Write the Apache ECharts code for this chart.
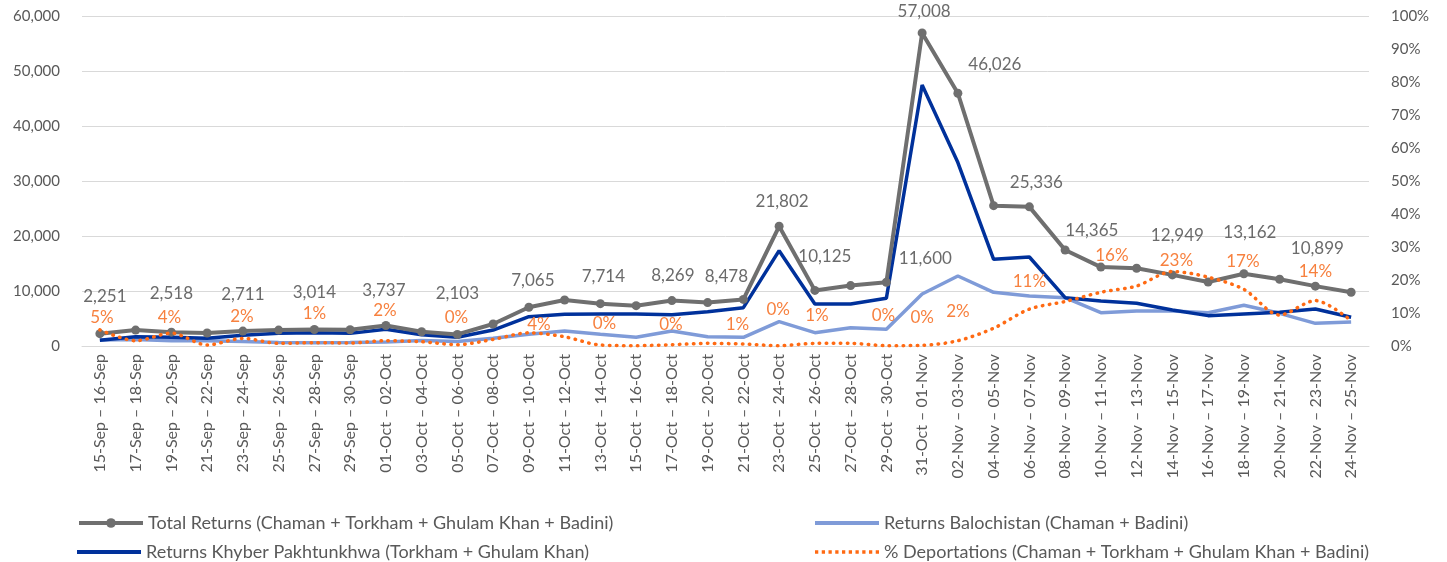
<!DOCTYPE html>
<html>
<head>
<meta charset="utf-8">
<script src="https://cdn.jsdelivr.net/npm/echarts@6/dist/echarts.min.js"></script>
<style>
html,body{margin:0;padding:0;background:#fff;}
#chart{width:1447px;height:562px;}
</style>
</head>
<body>
<div id="chart"></div>
<script>
// ---- DATA ----
const categories = ['15-Sep – 16-Sep','17-Sep – 18-Sep','19-Sep – 20-Sep','21-Sep – 22-Sep','23-Sep – 24-Sep','25-Sep – 26-Sep','27-Sep – 28-Sep','29-Sep – 30-Sep','01-Oct – 02-Oct','03-Oct – 04-Oct','05-Oct – 06-Oct','07-Oct – 08-Oct','09-Oct – 10-Oct','11-Oct – 12-Oct','13-Oct – 14-Oct','15-Oct – 16-Oct','17-Oct – 18-Oct','19-Oct – 20-Oct','21-Oct – 22-Oct','23-Oct – 24-Oct','25-Oct – 26-Oct','27-Oct – 28-Oct','29-Oct – 30-Oct','31-Oct – 01-Nov','02-Nov – 03-Nov','04-Nov – 05-Nov','06-Nov – 07-Nov','08-Nov – 09-Nov','10-Nov – 11-Nov','12-Nov – 13-Nov','14-Nov – 15-Nov','16-Nov – 17-Nov','18-Nov – 19-Nov','20-Nov – 21-Nov','22-Nov – 23-Nov','24-Nov – 25-Nov'];
const totalReturns = [2251,2900,2518,2370,2711,2900,3014,2950,3737,2600,2103,4000,7065,8380,7714,7340,8269,7900,8478,21802,10125,11000,11600,57008,46026,25560,25336,17490,14365,14150,12949,11660,13162,12150,10899,9780];
const returnsKP = [1040,1700,1600,1400,1950,2300,2430,2300,3040,2050,1580,2900,5340,5770,5830,5830,5700,6250,6980,17360,7650,7650,8690,47540,33400,15790,16210,8800,8200,7770,6560,5530,5830,6130,6740,5230];
const returnsBalochistan = [1100,1200,950,950,800,650,600,650,750,1000,800,1400,2130,2730,2130,1580,2730,1700,1580,4430,2430,3340,3040,9470,12750,9780,9110,8800,6070,6380,6380,6070,7410,5950,4130,4370];
const pctDeportations = [4.9,1.6,3.9,0.3,2.3,0.8,1.0,0.9,1.6,1.3,0.4,2.0,4.0,2.8,0.3,0.1,0.4,0.8,0.6,0.1,0.8,0.8,0.1,0.2,1.6,5.4,11.2,13.5,16.3,18.2,22.6,20.9,17.2,9.4,13.8,7.7];
const labeledIndices = [0,2,4,6,8,10,12,14,16,18,19,20,22,23,24,26,28,30,32,34];
const leftTicks = {min:0, max:60000, interval:10000};
const rightTicks = {min:0, max:100, interval:10};

const seriesNames = {
  total: 'Total Returns (Chaman + Torkham + Ghulam Khan + Badini)',
  bal: 'Returns Balochistan (Chaman + Badini)',
  kp: 'Returns Khyber Pakhtunkhwa (Torkham + Ghulam Khan)',
  pct: '% Deportations (Chaman + Torkham + Ghulam Khan + Badini)'
};

// ---- STYLE (label placements, not data) ----
const totalLabelOffsets = {0:[5,-37],2:[0,-39],4:[0,-37],6:[0,-37],8:[-2,-35],10:[0,-41],12:[4,-27],14:[3,-27],16:[1,-25],18:[-17,-23],19:[3,-25],20:[10,-34],22:[39,-24],23:[2,-21],24:[37,-29],26:[7,-24],28:[-9,-37],30:[5,-39],32:[6,-41],34:[2,-38]};
const pctLabelOffsets = {0:[2,-12],2:[-2,-16],4:[-1,-22],6:[0,-29],8:[-1,-30],10:[-1,-27],12:[10,-8],14:[4,-21],16:[-1,-20],18:[-6,-20],19:[-1,-36],20:[2,-28],22:[-3,-30],23:[0,-28],24:[0,-29],26:[0,-28],28:[11,-37],30:[4,-11],32:[-1,-28],34:[0,-29]};

const FONT = 'Lato';
const COLORS = {total:'#6f6f6f', kp:'#00319b', bal:'#7f9bd8', pct:'#ff6a13'};
const fmtThousands = v => Number(v).toLocaleString('en-US');

const totalData = totalReturns.map((v,i) => {
  if (labeledIndices.indexOf(i) < 0) return v;
  return {value:v, label:{show:true, offset: totalLabelOffsets[i] || [0,-30]}};
});
const pctData = pctDeportations.map((v,i) => {
  if (labeledIndices.indexOf(i) < 0) return v;
  return {value:v, label:{show:true, offset: pctLabelOffsets[i] || [0,-25]}};
});

// legend icons
let dots = '';
for (let x = 0; x < 64; x += 7) dots += 'M' + x + ' 0h3.4v3.4h-3.4z ';
const dottedIcon = 'path://' + dots;
const barIcon = 'path://M0 0h64v4H0z';

const legendText = {fontFamily: FONT, fontSize: 18, color: '#595959'};

const chart = echarts.init(document.getElementById('chart'), null, {renderer:'canvas'});
const option = {
  animation: false,
  backgroundColor: '#ffffff',
  textStyle: {fontFamily: FONT},
  grid: {left: 82, right: 78, top: 16.5, bottom: 216, containLabel: false},
  legend: [
    {left: 72, top: 509, itemWidth: 64, itemHeight: 12, selectedMode: false, textStyle: legendText,
      lineStyle: {width: 4}, data: [seriesNames.total]},
    {left: 72, top: 538, itemWidth: 64, itemHeight: 12, selectedMode: false, textStyle: legendText,
      data: [{name: seriesNames.kp, icon: barIcon, itemStyle: {color: COLORS.kp}}]},
    {left: 810, top: 509, itemWidth: 64, itemHeight: 12, selectedMode: false, textStyle: legendText,
      data: [{name: seriesNames.bal, icon: barIcon, itemStyle: {color: COLORS.bal}}]},
    {left: 810, top: 538, itemWidth: 64, itemHeight: 12, selectedMode: false, textStyle: legendText,
      data: [{name: seriesNames.pct, icon: dottedIcon, itemStyle: {color: COLORS.pct}}]}
  ],
  xAxis: {
    type: 'category', data: categories, boundaryGap: true,
    axisLine: {lineStyle: {color: '#d9d9d9', width: 1}},
    axisTick: {alignWithLabel: true, length: 5, lineStyle: {color: '#d9d9d9'}},
    axisLabel: {interval: 0, rotate: 90, margin: 8, fontFamily: FONT, fontSize: 16, color: '#595959'}
  },
  yAxis: [
    {
      type: 'value', min: leftTicks.min, max: leftTicks.max, interval: leftTicks.interval,
      axisLine: {show: false}, axisTick: {show: false},
      splitLine: {lineStyle: {color: '#d9d9d9', width: 1}},
      axisLabel: {margin: 22, fontFamily: FONT, fontSize: 15, color: '#595959', formatter: v => fmtThousands(v)}
    },
    {
      type: 'value', position: 'right', min: rightTicks.min, max: rightTicks.max, interval: rightTicks.interval,
      axisLine: {show: false}, axisTick: {show: false}, splitLine: {show: false},
      axisLabel: {margin: 22, fontFamily: FONT, fontSize: 15, color: '#595959', formatter: '{value}%'}
    }
  ],
  series: [
    {
      name: seriesNames.bal, type: 'line', yAxisIndex: 0, data: returnsBalochistan,
      symbol: 'none', lineStyle: {color: COLORS.bal, width: 3.5}, itemStyle: {color: COLORS.bal}, z: 2
    },
    {
      name: seriesNames.kp, type: 'line', yAxisIndex: 0, data: returnsKP,
      symbol: 'none', lineStyle: {color: COLORS.kp, width: 3.5}, itemStyle: {color: COLORS.kp}, z: 3
    },
    {
      name: seriesNames.total, type: 'line', yAxisIndex: 0, data: totalData,
      symbol: 'circle', symbolSize: 9, lineStyle: {color: COLORS.total, width: 4}, itemStyle: {color: COLORS.total}, z: 4,
      label: {show: false, position: 'inside', fontFamily: FONT, fontSize: 17, color: '#6b6b6b',
        formatter: p => fmtThousands(p.value)}
    },
    {
      name: seriesNames.pct, type: 'line', yAxisIndex: 1, data: pctData, smooth: 0.3,
      symbol: 'circle', symbolSize: 0, showSymbol: true,
      lineStyle: {color: COLORS.pct, width: 3.5, type: [0.5, 6.5], cap: 'round'}, itemStyle: {color: COLORS.pct}, z: 5,
      label: {show: false, position: 'inside', fontFamily: FONT, fontSize: 17, color: '#f7813f',
        formatter: p => Math.round(p.value) + '%'}
    }
  ]
};
chart.setOption(option);
</script>
</body>
</html>
